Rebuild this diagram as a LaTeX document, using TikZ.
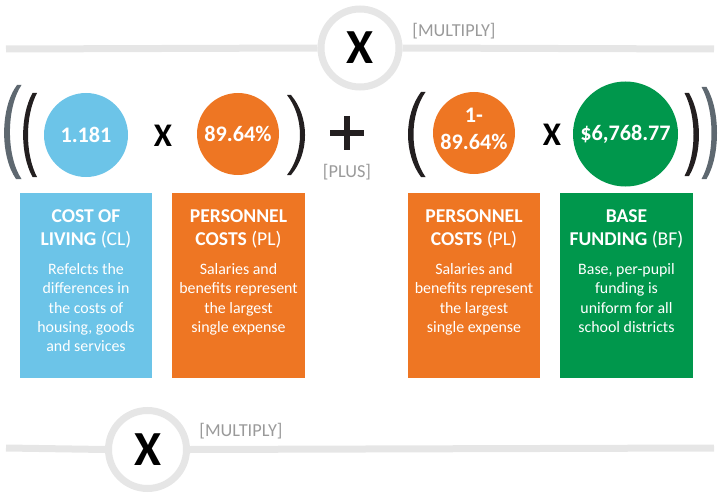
\documentclass[tikz,border=0pt]{standalone}
\usepackage{fontspec}
\setmainfont{Carlito}
\definecolor{cblue}{HTML}{6CC4E8}
\definecolor{corange}{HTML}{EE7623}
\definecolor{cgreen}{HTML}{00974C}
\definecolor{ringgray}{HTML}{E6E6E6}
\definecolor{labgray}{HTML}{9A9A9A}
\definecolor{brblack}{HTML}{231F20}
\definecolor{brgray}{HTML}{5E6870}
\begin{document}
\begin{tikzpicture}[x=1pt,y=-1pt,
  ringc/.style={circle,draw=ringgray,line width=7pt,fill=white,minimum size=78pt,inner sep=0pt,font=\bfseries\fontsize{49}{49}\selectfont},
  bar/.style={draw=ringgray,line width=7pt},
  oplabel/.style={text=labgray,font=\fontsize{18.3}{18.3}\selectfont,inner sep=0pt},
  val/.style={circle,inner sep=0pt,text=white,font=\bfseries\fontsize{22.2}{27}\selectfont,align=center},
  card/.style={inner sep=0pt,minimum height=185pt},
  ctitle/.style={text=white,font=\bfseries\fontsize{19.6}{23}\selectfont,align=center,inner sep=0pt,anchor=north},
  cbody/.style={text=white,font=\fontsize{15.9}{19.3}\selectfont,align=center,inner sep=0pt,anchor=north},
  times/.style={font=\bfseries\fontsize{33}{33}\selectfont,inner sep=0pt,text=black},
  brk/.style={fill=brblack},
  gbrk/.style={fill=brgray}]
\path[use as bounding box] (0,0) rectangle (721,503);

% top multiply bar
\coordinate (tl) at (6,49);
\coordinate (tr) at (714,49);
\node[ringc] (m1) at (360,48) {X};
\draw[bar] (tl) -- (m1.west);
\draw[bar] (m1.east) -- (tr);
\node[oplabel] (m1l) at (454,31.5) {[MULTIPLY]};

% brackets left group
\path[gbrk] (17,85) .. controls (0,108) and (0,156) .. (16,179) -- (21.5,179) .. controls (6.1,156) and (6.1,108) .. (21.5,85) -- cycle;
\path[brk] (32.5,93) .. controls (20,116) and (20,154) .. (32.5,177) -- (37,177) .. controls (25,154) and (25,116) .. (37,93) -- cycle;
\path[brk] (291,95) .. controls (309.7,117) and (309.7,153) .. (291,175) -- (287,175) .. controls (304.3,153) and (304.3,117) .. (287,95) -- cycle;

% brackets right group
\path[brk] (421,92) .. controls (403.7,115) and (403.7,154) .. (421,177) -- (425.5,177) .. controls (409.5,154) and (409.5,115) .. (425.5,92) -- cycle;
\path[brk] (689,93) .. controls (702.3,116) and (702.3,154) .. (689,176) -- (684.5,176) .. controls (696.5,154) and (696.5,116) .. (684.5,93) -- cycle;
\path[gbrk] (706.5,87) .. controls (720.5,110) and (720.5,156) .. (706.5,179) -- (701.5,179) .. controls (714.8,156) and (714.8,110) .. (701.5,87) -- cycle;

% value circles
\node[val,fill=cblue,minimum size=84pt] (v1) at (86,135) {1.181};
\node[times] (x1) at (163,136) {X};
\node[val,fill=corange,minimum size=82pt] (v2) at (238,134) {89.64\%};
\node[val,fill=corange,minimum size=82pt] (v3) at (474,133) {};
\node[val] (v3t) at (474,129) {1-\\89.64\%};
\node[times] (x2) at (552,135) {X};
\node[val,fill=cgreen,minimum size=105pt] (v4) at (625.5,134) {\$6,768.77};

% plus
\draw[line width=5.5pt,brblack] (347,116) -- (347,150);
\draw[line width=5.5pt,brblack] (330,133) -- (364,133);
\node[oplabel] (pl) at (347,172) {[PLUS]};

% cards
\node[card,fill=cblue,minimum width=132pt] (k1) at (86,285.5) {};
\node[card,fill=corange,minimum width=133pt] (k2) at (238.5,285.5) {};
\node[card,fill=corange,minimum width=132pt] (k3) at (474,285.5) {};
\node[card,fill=cgreen,minimum width=133pt] (k4) at (626.5,285.5) {};

\node[ctitle] (t1) at (86,209.3) {COST OF\\LIVING {\mdseries(CL)}};
\node[ctitle] (t2) at (238.5,209.3) {PERSONNEL\\COSTS {\mdseries(PL)}};
\node[ctitle] (t3) at (474,209.3) {PERSONNEL\\COSTS {\mdseries(PL)}};
\node[ctitle] (t4) at (626.5,209.3) {BASE\\FUNDING {\mdseries(BF)}};

\node[cbody] (b1) at (86,263.2) {Refelcts the\\differences in\\the costs of\\housing, goods\\and services};
\node[cbody] (b2) at (238.5,263.2) {Salaries and\\benefits represent\\the largest\\single expense};
\node[cbody] (b3) at (474,263.2) {Salaries and\\benefits represent\\the largest\\single expense};
\node[cbody] (b4) at (626.5,263.2) {Base, per-pupil\\funding is\\uniform for all\\school districts};

% bottom multiply bar
\coordinate (bl) at (6,448);
\coordinate (br) at (714,448);
\node[ringc] (m2) at (147.5,449.5) {X};
\draw[bar] (bl) -- (m2.west);
\draw[bar] (m2.east) -- (br);
\node[oplabel] (m2l) at (241,431) {[MULTIPLY]};
\end{tikzpicture}
\end{document}
